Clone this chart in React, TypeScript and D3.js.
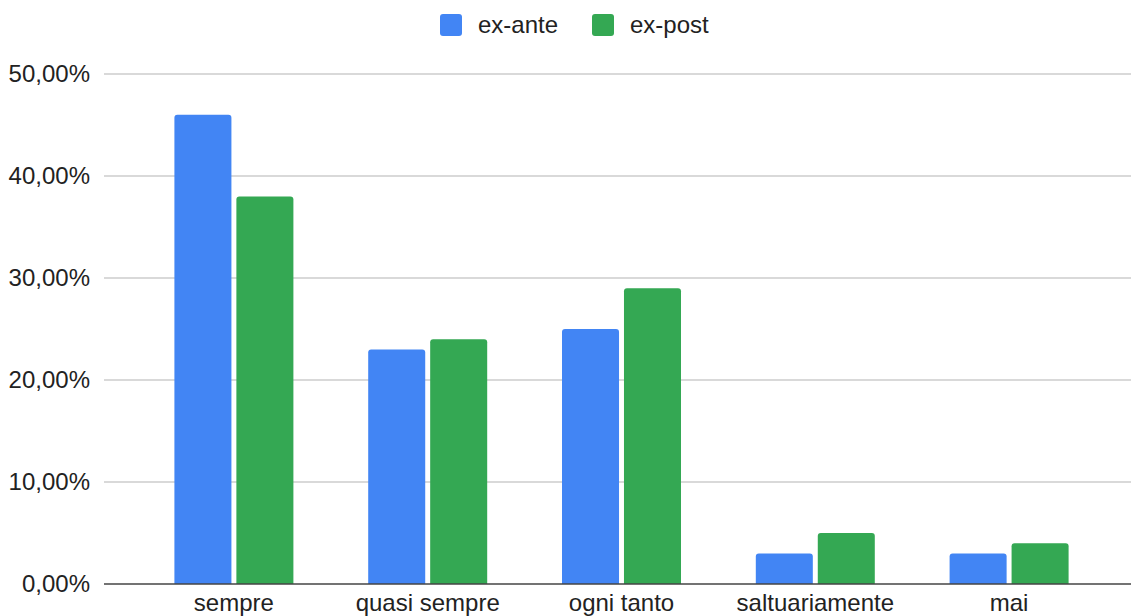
import React from 'react';
import { scaleBand, scaleLinear, formatLocale } from 'd3';

const categories = ['sempre', 'quasi sempre', 'ogni tanto', 'saltuariamente', 'mai'];
const series = ['ex-ante', 'ex-post'];
const exAnte = [0.46, 0.23, 0.25, 0.03, 0.03];
const exPost = [0.38, 0.24, 0.29, 0.05, 0.04];
const yTicks = [0, 0.1, 0.2, 0.3, 0.4, 0.5];
const colors = ['#4285F4', '#34A853'];

const width = 1131;
const height = 616;
const font = '"Liberation Sans", Arial, sans-serif';

const it = formatLocale({ decimal: ',', thousands: '.', grouping: [3], currency: ['', '€'] });
const pct = it.format('.2%');

// rounded only on top
const barPath = (x: number, y: number, w: number, h: number, r: number) => {
    r = Math.min(r, h / 2, w / 2);
    return `M${x},${y + h}V${y + r}Q${x},${y} ${x + r},${y}H${x + w - r}Q${x + w},${y} ${x + w},${y + r}V${y + h}Z`;
};

export default function App() {
    const xScale = scaleBand()
        .domain(categories)
        .range([137, 1106])
        .paddingInner(0.386)
        .paddingOuter(0.193);

    const xInner = scaleBand()
        .domain(series)
        .range([0, xScale.bandwidth()])
        .paddingInner(0.08);

    const yScale = scaleLinear()
        .domain([0, 0.5])
        .range([584, 74]);

    const values = [exAnte, exPost];

    return (
        <svg width={width} height={height} style={{ position: 'absolute', left: 0, top: 0, background: '#fff' }} fontFamily={font}>
            {yTicks.map(t => (
                <g key={t} transform={`translate(0, ${yScale(t)})`}>
                    {t > 0 && <line x1={104} x2={width} stroke="#cccccc" strokeWidth={1.5} />}
                    <text x={90} dy="0.35em" textAnchor="end" fontSize={24} fill="#222">{pct(t)}</text>
                </g>
            ))}
            {categories.map((c, i) => (
                <g key={c} transform={`translate(${xScale(c)}, 0)`}>
                    {series.map((s, j) => {
                        const v = values[j][i];
                        const y = yScale(v);
                        return <path key={s} d={barPath(xInner(s)!, y, xInner.bandwidth(), yScale(0) - y, 3)} fill={colors[j]} />;
                    })}
                    <text x={xScale.bandwidth() / 2} y={611} textAnchor="middle" fontSize={24} fill="#222">{c}</text>
                </g>
            ))}
            <line x1={104} x2={width} y1={yScale(0)} y2={yScale(0)} stroke="#444" strokeWidth={1.5} />
            {series.map((s, j) => (
                <g key={s} transform={`translate(${j === 0 ? 440 : 592}, 14)`}>
                    <rect width={22} height={22} rx={3} fill={colors[j]} />
                    <text x={38} y={11} dy="0.35em" fontSize={24} fill="#222">{s}</text>
                </g>
            ))}
        </svg>
    );
}
